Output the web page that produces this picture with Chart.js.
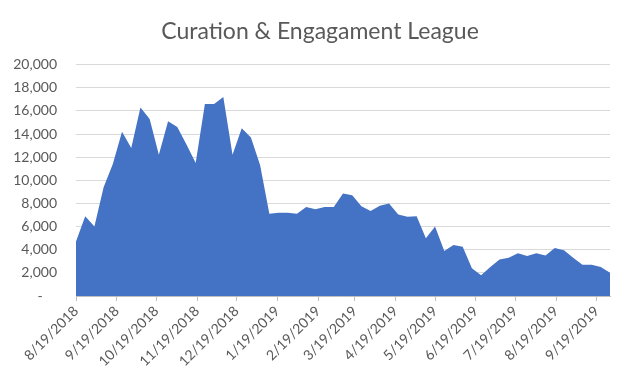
<!DOCTYPE html>
<html>
<head>
<meta charset="utf-8">
<script src="https://cdn.jsdelivr.net/npm/chart.js@4.4.1/dist/chart.umd.min.js"></script>
<style>
  html, body { margin: 0; padding: 0; background: #fff; }
  #wrap { width: 640px; height: 385px; }
</style>
</head>
<body>
<div id="wrap"><canvas id="myChart" width="640" height="385"></canvas></div>
<script>
// weekly values, first week starts 8/19/2018
var startDate = '2018-08-19';
var weeklyValues = [
  4700, 6900, 6000, 9400, 11400, 14200, 12800, 16300, 15300, 12200,
  15100, 14600, 13100, 11500, 16600, 16600, 17200, 12200, 14500, 13700,
  11300, 7100, 7200, 7200, 7100, 7700, 7500, 7700, 7700, 8850,
  8700, 7750, 7350, 7800, 8000, 7050, 6850, 6900, 5000, 6000,
  3900, 4400, 4250, 2400, 1800, 2500, 3150, 3300, 3700, 3450,
  3700, 3500, 4150, 3950, 3300, 2700, 2700, 2500, 2000
];
var monthTicks = [
  '8/19/2018', '9/19/2018', '10/19/2018', '11/19/2018', '12/19/2018',
  '1/19/2019', '2/19/2019', '3/19/2019', '4/19/2019', '5/19/2019',
  '6/19/2019', '7/19/2019', '8/19/2019', '9/19/2019'
];
var yTicks = [0, 2000, 4000, 6000, 8000, 10000, 12000, 14000, 16000, 18000, 20000];

var DAY = 86400000;
var t0 = Date.parse(startDate + 'T00:00:00Z');
function dayOf(label) {
  var p = label.split('/');
  return Math.round((Date.UTC(+p[2], +p[0] - 1, +p[1]) - t0) / DAY);
}

var points = weeklyValues.map(function (v, i) { return { x: i * 7, y: v }; });
var tickDays = monthTicks.map(dayOf);

var grey = '#595959';
var fontFam = 'Lato, "Open Sans", sans-serif';

new Chart(document.getElementById('myChart').getContext('2d'), {
  type: 'line',
  data: {
    datasets: [{
      label: 'Curation & Engagament League',
      data: points,
      fill: 'origin',
      backgroundColor: '#4472C4',
      borderColor: '#4472C4',
      borderWidth: 0,
      pointRadius: 0,
      tension: 0
    }]
  },
  options: {
    responsive: false,
    devicePixelRatio: 1,
    animation: false,
    layout: { padding: 0 },
    plugins: {
      legend: { display: false },
      tooltip: { enabled: false },
      title: {
        display: true,
        text: 'Curation & Engagament League',
        color: grey,
        font: { family: fontFam, size: 23, weight: 'normal' },
        padding: { top: 18, bottom: 19 }
      }
    },
    scales: {
      x: {
        type: 'linear',
        min: 0,
        max: (weeklyValues.length - 1) * 7,
        afterBuildTicks: function (scale) {
          scale.ticks = tickDays.map(function (d) { return { value: d }; });
        },
        afterFit: function (scale) { scale.height = 89; },
        ticks: {
          autoSkip: false,
          maxRotation: 45,
          minRotation: 45,
          color: grey,
          font: { family: fontFam, size: 14 },
          padding: 2,
          callback: function (value) {
            var k = tickDays.indexOf(value);
            return k >= 0 ? monthTicks[k] : '';
          }
        },
        grid: {
          drawOnChartArea: false,
          drawTicks: true,
          tickLength: 5,
          color: '#BFBFBF'
        },
        border: { display: true, color: '#BFBFBF', width: 1 }
      },
      y: {
        min: 0,
        max: 20000,
        afterBuildTicks: function (scale) {
          scale.ticks = yTicks.map(function (v) { return { value: v }; });
        },
        afterFit: function (scale) { scale.width = 76; },
        ticks: {
          color: grey,
          font: { family: fontFam, size: 14 },
          padding: 19,
          callback: function (value) {
            return value === 0 ? '-    ' : value.toLocaleString('en-US');
          }
        },
        grid: {
          color: '#D9D9D9',
          lineWidth: 1,
          drawTicks: false
        },
        border: { display: false }
      },
      // empty right-hand gutter so the title stays centred on the canvas
      gutter: {
        position: 'right',
        display: true,
        min: 0,
        max: 1,
        afterFit: function (scale) { scale.width = 30; },
        ticks: { display: false },
        grid: { display: false },
        border: { display: false }
      }
    }
  }
});
</script>
</body>
</html>
